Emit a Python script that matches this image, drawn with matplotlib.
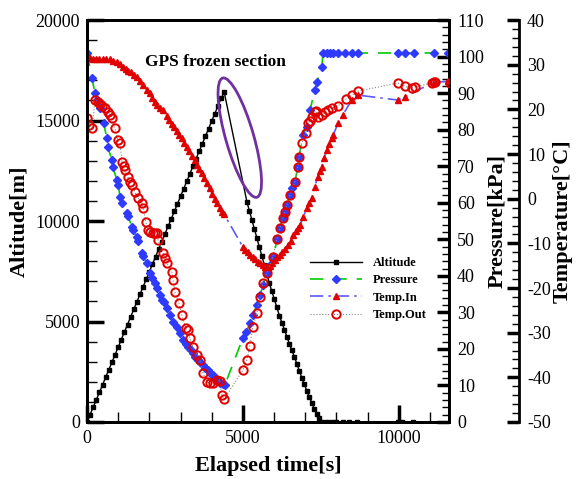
import matplotlib
matplotlib.use("Agg")
import matplotlib.pyplot as plt
from matplotlib.patches import Ellipse
from matplotlib.transforms import ScaledTranslation
from matplotlib.ticker import MultipleLocator

plt.rcParams['font.family'] = ['Liberation Serif', 'DejaVu Serif']
plt.rcParams['axes.unicode_minus'] = False

# altitude [m]: ascent, frozen GPS, descent, on ground
alt_t = [0, 100, 200, 300, 400, 500, 600, 700, 800, 900, 1000, 1100, 1200, 1300, 1400,
         1500, 1600, 1700, 1800, 1900, 2000, 2100, 2200, 2300, 2400, 2500, 2600, 2700,
         2800, 2900, 3000, 3100, 3200, 3300, 3400, 3500, 3600, 3700, 3800, 3900, 4000,
         4100, 4200, 4300, 4400,
         5130, 5210, 5290, 5370, 5450, 5530, 5610, 5690, 5770, 5850, 5930, 6010, 6090,
         6170, 6250, 6330, 6410, 6490, 6570, 6650, 6730, 6810, 6890, 6970, 7050, 7130,
         7210, 7290, 7370, 7450, 7530,
         7690, 7850, 8000, 8200, 8400, 8650, 9970, 10100, 10450]
alt_v = [0, 370, 740, 1110, 1480, 1850, 2230, 2600, 2970, 3350, 3720, 4100, 4480, 4850, 5230,
         5600, 5980, 6350, 6730, 7100, 7480, 7860, 8230, 8610, 8980, 9360, 9730, 10100,
         10480, 10850, 11230, 11600, 11980, 12350, 12730, 13100, 13480, 13850, 14230, 14600, 14980,
         15350, 15730, 16100, 16420,
         10950, 10500, 10050, 9600, 9150, 8700, 8250, 7800, 7350, 6900, 6500, 6100, 5700,
         5300, 4950, 4600, 4250, 3900, 3580, 3250, 2900, 2550, 2200, 1870, 1550, 1250,
         950, 650, 400, 200, 0,
         0, 0, 0, 0, 0, 0, 0, 0, 0]

# pressure [kPa]
p_t = [0, 160, 256, 320, 420, 530, 640, 670, 800, 830, 960, 1000, 1060, 1120, 1280, 1310,
       1440, 1470, 1600, 1640, 1760, 1800, 1920, 2020, 2080, 2180, 2240, 2340, 2400, 2460,
       2560, 2660, 2760, 2880, 2980, 3080, 3160, 3240, 3320, 3400, 3480, 3560, 3640, 3720,
       3800, 3880, 3960, 4040, 4120, 4200, 4280, 4350, 4420,
       5000, 5110, 5220, 5330, 5440, 5550, 5650, 5760, 5870, 5970, 6100, 6190, 6280, 6350,
       6420, 6500, 6580, 6670, 6760, 6800, 6920, 7050, 7150, 7310, 7370, 7530, 7570, 7690,
       7790, 7880, 8050, 8270, 8490, 8690, 9970, 10190, 10480, 11120, 11570]
p_v = [101, 94.1, 90, 88.1, 85.9, 81.8, 77.7, 75.2, 71.7, 69.8, 66.2, 65, 61.6, 59.9, 57.2, 56.5,
       53.4, 52.5, 50.6, 49.5, 46.2, 45.3, 43.5, 40.8, 39.5, 38, 36.7, 34.7, 33.5, 32.8,
       31.2, 29.3, 27.4, 26, 24.3, 22.4, 21.3, 20.5, 19.6, 18.9, 17.9, 17, 16.3, 15.6,
       14.9, 14.2, 13.5, 12.9, 12.1, 11.2, 10.8, 10.4, 10.1,
       23, 24.6, 27.1, 29.3, 32, 34.7, 37.5, 40.8, 43, 45.1, 50, 53.1, 55.8, 57.5,
       59.4, 62.1, 64, 65.7, 69.8, 72.5, 78.5, 80.7, 85.4, 90.8, 93, 97.1, 101, 101,
       101, 101, 101, 101, 101, 101, 101, 101, 101, 101, 101]

# inside temperature [C]
tin_t = [0, 100, 200, 300, 400, 500, 600, 740, 850, 950, 1050, 1150, 1250, 1320, 1400, 1500,
         1600, 1700, 1800, 1920, 2020, 2100, 2180, 2260, 2340, 2440, 2560, 2640, 2720, 2800,
         2880, 2960, 3040, 3120, 3200, 3280, 3370, 3450, 3530, 3600, 3680, 3760, 3850, 3930,
         4020, 4100, 4180, 4260, 4340, 4400,
         5000, 5080, 5160, 5240, 5320, 5400, 5480, 5560, 5640, 5700, 5760, 5820, 5880, 5940,
         6020, 6100, 6190, 6270, 6360, 6450, 6530, 6620, 6700, 6770, 6830, 6940, 7050, 7130,
         7210, 7300, 7400, 7470, 7530, 7600, 7690, 7760, 7850, 7900, 8050, 8200, 8490, 8690,
         9970, 10190, 11120, 11150, 11570]
tin_v = [31.5, 31.5, 31.4, 31.4, 31.3, 31.3, 31.3, 31.2, 30.9, 30.6, 30.2, 29.6, 29.0, 28.7, 28.3, 27.8,
         27.2, 26.4, 25.5, 24.4, 23.6, 22.6, 21.7, 20.9, 20.3, 19.8, 18.6, 17.7, 16.8, 16.0,
         15.1, 14.3, 13.5, 12.5, 11.6, 10.6, 9.5, 8.6, 7.6, 6.7, 5.7, 4.6, 3.5, 2.3,
         1.1, 0.0, -1.0, -2.0, -2.9, -3.5,
         -10.8, -11.4, -11.9, -12.5, -13.0, -13.6, -14.1, -14.5, -14.9, -15.2, -15.1, -15.3, -15.0, -14.4,
         -13.7, -13.1, -12.6, -11.9, -11.2, -10.4, -9.4, -8.2, -7.2, -6.5, -5.9, -4.1, -2.1, -0.9,
         0.2, 2.6, 4.9, 6.2, 7.1, 9.1, 10.9, 12.3, 13.6, 14.3, 16.9, 18.7, 22.1, 23.2,
         22.1, 22.8, 26.1, 26.1, 26.3]

# outside temperature [C]
tout_t = [0, 80, 160, 260, 350, 430, 480, 580, 670, 740, 800, 900, 990, 1060, 1120, 1180,
          1220, 1310, 1380, 1440, 1540, 1640, 1760, 1800, 1890, 1960, 2020, 2120, 2180, 2240,
          2280, 2440, 2500, 2560, 2720, 2760, 2820, 2950, 3040, 3170, 3230, 3300, 3400, 3530,
          3620, 3720, 3850, 3950, 4040, 4170, 4260, 4330, 4390,
          5000, 5130, 5220, 5320, 5450, 5550, 5640, 5770, 5960, 6090, 6190, 6280, 6350, 6410,
          6510, 6670, 6760, 6800, 6890, 7020, 7090, 7160, 7210, 7310, 7350, 7400, 7530, 7630,
          7720, 7850, 8050, 8300, 8490, 8690, 9970, 10190, 10410, 10510, 11080, 11120, 11160,
          11630]
tout_v = [18.1, 16.5, 15.8, 22.1, 21.6, 21.2, 20.8, 20.3, 19.4, 18.8, 18.1, 15.8, 13.1, 12.5, 8.2, 7.3,
          6.4, 4.9, 3.8, 3.1, 1.5, 0.2, -1.0, -2.1, -5.2, -7.0, -7.5, -7.7, -7.6, -7.7,
          -9.2, -12.2, -13.3, -14.4, -16.4, -18.2, -20.9, -23.4, -26.0, -29.0, -29.4, -31.2, -33.2, -35.0,
          -36.1, -39.0, -41.0, -41.3, -41.3, -40.6, -40.8, -44.0, -44.9,
          -38.4, -36.1, -33.0, -28.7, -25.6, -22.0, -18.8, -16.6, -13.0, -9.0, -6.6, -4.3, -3.0, -1.4,
          0.8, 3.7, 7.1, 9.3, 12.5, 14.7, 16.9, 17.5, 18.3, 19.4, 19.6, 18.3, 18.7, 19.4,
          19.9, 20.3, 20.8, 22.3, 23.2, 24.1, 25.9, 25.2, 24.8, 25.0, 26.0, 26.1, 26.2,
          26.0]

fig = plt.figure(figsize=(5.76, 4.79), dpi=100)
ax = fig.add_axes([0.151, 0.119, 0.628, 0.839])
ax2 = ax.twinx()
ax3 = ax.twinx()

l1, = ax.plot(alt_t, alt_v, color='black', lw=1, marker='s', ms=3.4, label='Altitude')
l2, = ax2.plot(p_t, p_v, color='#00CC00', lw=1.2, ls=(0, (8, 6)), marker='D', ms=3.6,
               mfc='#2E3BFF', mec='#2E3BFF', label='Pressure')
l3, = ax3.plot(tin_t, tin_v, color='#5A5AFF', lw=1.2, ls=(0, (8, 3, 1.5, 3)), marker='^', ms=4.5,
               mfc='#E00000', mec='#E00000', label='Temp.In')
l4, = ax3.plot(tout_t, tout_v, color='#888888', lw=0.8, ls=':', marker='o', ms=6,
               mfc='none', mec='#E00000', mew=1.4, label='Temp.Out')

ax.set_xlim(0, 11600)
ax.set_ylim(0, 20000)
ax2.set_ylim(0, 110)
ax3.set_ylim(-50, 40)

ax.xaxis.set_major_locator(MultipleLocator(5000))
ax.xaxis.set_minor_locator(MultipleLocator(1000))
ax.yaxis.set_major_locator(MultipleLocator(5000))
ax.yaxis.set_minor_locator(MultipleLocator(1000))
ax2.yaxis.set_major_locator(MultipleLocator(10))
ax2.yaxis.set_minor_locator(MultipleLocator(2))
ax3.yaxis.set_major_locator(MultipleLocator(10))
ax3.yaxis.set_minor_locator(MultipleLocator(2))

ax3.spines['right'].set_position(('axes', 1.0 + 70 / 362))
for a in (ax, ax2, ax3):
    for s in a.spines.values():
        s.set_linewidth(2)

ax.tick_params(which='major', direction='in', length=12, width=2.5, labelsize=13, pad=5)
ax.tick_params(which='minor', direction='in', length=7, width=1)
ax.tick_params(axis='x', pad=6)
ax2.tick_params(which='major', direction='in', length=9, width=2.5, labelsize=13, pad=6)
ax2.tick_params(which='minor', direction='in', length=5, width=1)
ax3.tick_params(which='major', direction='in', length=9, width=2.5, labelsize=13, pad=6)
ax3.tick_params(which='minor', direction='in', length=5, width=1)

lab = dict(fontsize=16, fontweight='bold')
ax.set_xlabel('Elapsed time[s]', labelpad=6, **lab)
ax.set_ylabel('Altitude[m]', labelpad=4, **lab)
ax2.set_ylabel('Pressure[kPa]', labelpad=2, **lab)
ax3.set_ylabel('Temperature[°C]', labelpad=1, **lab)

ax3.text(4135, 17900, 'GPS frozen section', transform=ax.transData, ha='center', va='center',
         fontsize=12.5, fontweight='bold')

ell = Ellipse((0, 0), 0.28, 1.24, angle=16, fill=False, ec='#7030A0', lw=2,
              transform=fig.dpi_scale_trans + ScaledTranslation(4900, 14150, ax.transData))
ax3.add_patch(ell)

ax3.legend(handles=[l1, l2, l3, l4], loc='upper left', bbox_to_anchor=(0.616, 0.41),
           frameon=False, prop=dict(family='Liberation Serif', weight='bold', size=9),
           handlelength=4.2, handletextpad=0.85, labelspacing=0.42, borderpad=0,
           borderaxespad=0)

fig.savefig('out.png', dpi=100)
